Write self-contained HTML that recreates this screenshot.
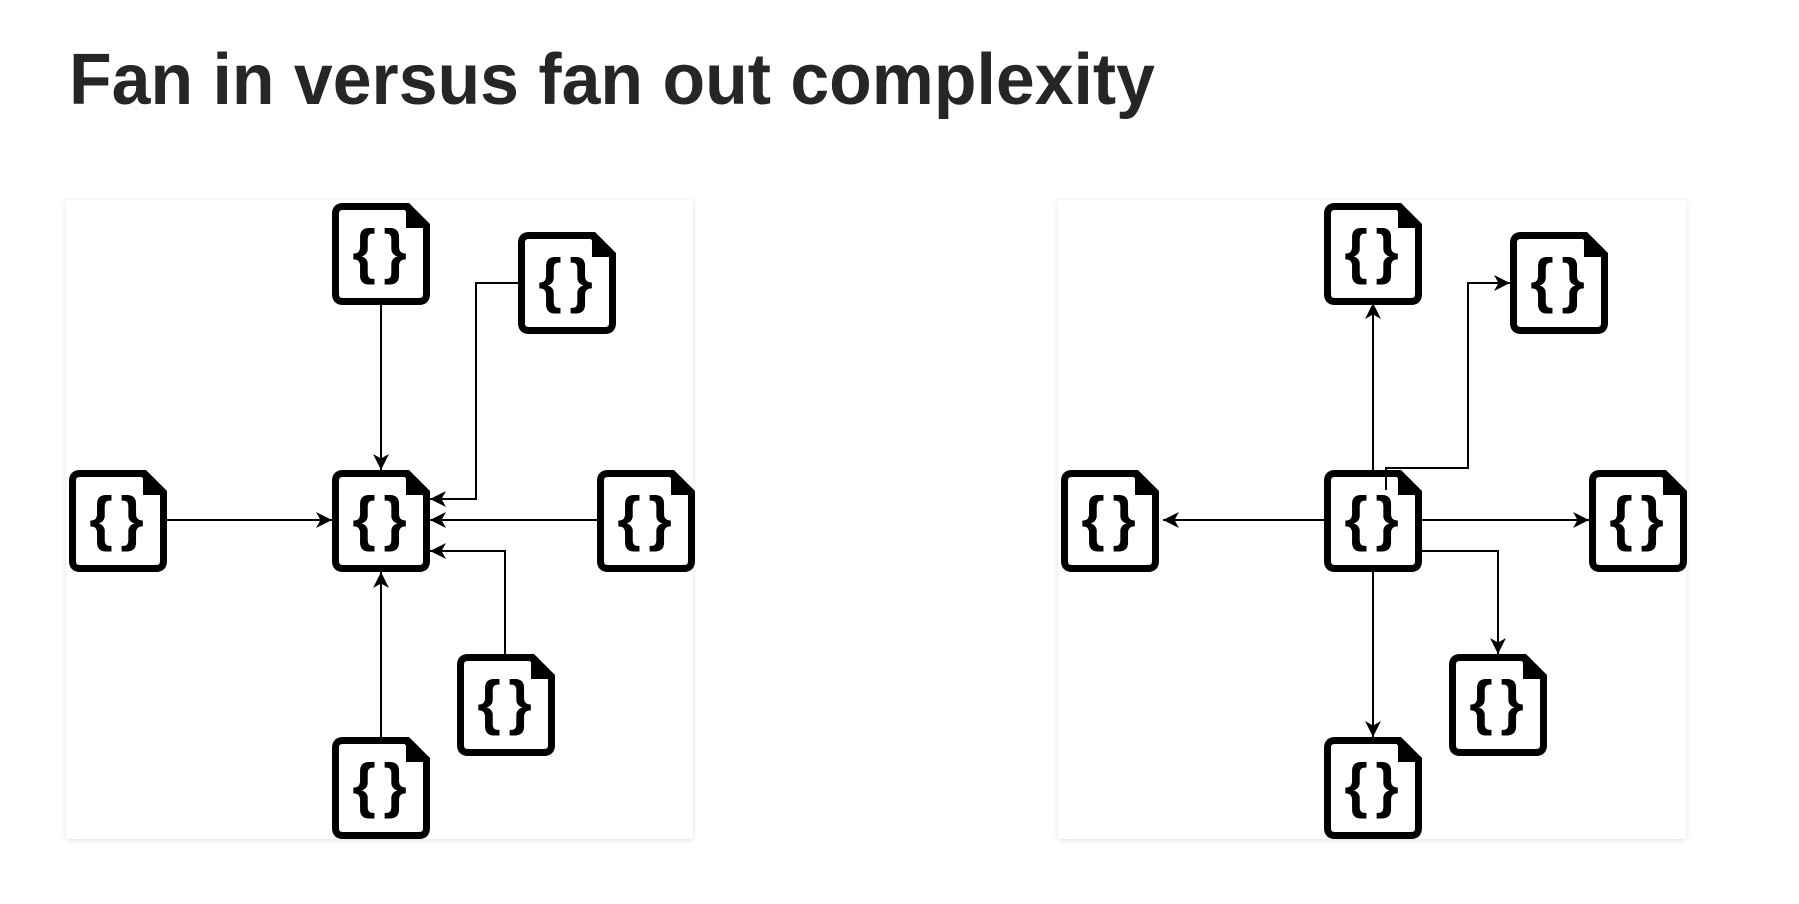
<!DOCTYPE html>
<html><head><meta charset="utf-8"><style>
html,body{margin:0;padding:0;background:#fff;width:1799px;height:904px;overflow:hidden}
</style></head><body>
<svg width="1799" height="904" viewBox="0 0 1799 904" xmlns="http://www.w3.org/2000/svg">
<defs>
<filter id="sh" x="-5%" y="-5%" width="110%" height="110%"><feDropShadow dx="0" dy="1" stdDeviation="3" flood-color="#000" flood-opacity="0.12"/></filter>
<marker id="ar" markerUnits="userSpaceOnUse" markerWidth="18" markerHeight="18" refX="16" refY="8" orient="auto"><path d="M0,0 L16,8 L0,16 L4.5,8 Z" fill="#000"/></marker>
<g id="doc">
<path d="M11,3.5 H74 L94.5,24 V91 Q94.5,98.5 87,98.5 H11 Q3.5,98.5 3.5,91 V11 Q3.5,3.5 11,3.5 Z" fill="#fff" stroke="#000" stroke-width="7"/>
<polygon points="74,0 77,0 98,21 98,25 74,25" fill="#000"/>
</g>
</defs>
<text x="69" y="104" font-family="Liberation Sans, sans-serif" font-weight="bold" font-size="72" fill="#262626" textLength="1086" lengthAdjust="spacingAndGlyphs">Fan in versus fan out complexity</text>
<rect x="66" y="200" width="627" height="639" fill="#fff" filter="url(#sh)"/>
<rect x="1058" y="200" width="628" height="639" fill="#fff" filter="url(#sh)"/>
<g stroke="#000" stroke-width="2" fill="none" marker-end="url(#ar)">
<path d="M381,303 V470"/>
<path d="M165,520 H332"/>
<path d="M597,520 H430"/>
<path d="M381,737 V572"/>
<path d="M518,283 H476 V499 H430"/>
<path d="M505,654 V551 H430"/>
<path d="M1373,470 V303"/>
<path d="M1324,520 H1163"/>
<path d="M1422,520 H1589"/>
<path d="M1373,572 V737"/>
<path d="M1386,490 V468 H1468 V283 H1510"/>
<path d="M1422,551 H1498 V654"/>
</g>
<g font-family="Liberation Sans, sans-serif" font-weight="bold" font-size="60" fill="#000" text-anchor="middle">
<use href="#doc" x="332" y="203"/><text x="364" y="272">{</text><text x="395" y="272">}</text>
<use href="#doc" x="518" y="232"/><text x="550" y="301">{</text><text x="581" y="301">}</text>
<use href="#doc" x="69" y="470"/><text x="101" y="539">{</text><text x="132" y="539">}</text>
<use href="#doc" x="332" y="470"/><text x="364" y="539">{</text><text x="395" y="539">}</text>
<use href="#doc" x="597" y="470"/><text x="629" y="539">{</text><text x="660" y="539">}</text>
<use href="#doc" x="457" y="654"/><text x="489" y="723">{</text><text x="520" y="723">}</text>
<use href="#doc" x="332" y="737"/><text x="364" y="806">{</text><text x="395" y="806">}</text>
<use href="#doc" x="1324" y="203"/><text x="1356" y="272">{</text><text x="1387" y="272">}</text>
<use href="#doc" x="1510" y="232"/><text x="1542" y="301">{</text><text x="1573" y="301">}</text>
<use href="#doc" x="1061" y="470"/><text x="1093" y="539">{</text><text x="1124" y="539">}</text>
<use href="#doc" x="1324" y="470"/><text x="1356" y="539">{</text><text x="1387" y="539">}</text>
<use href="#doc" x="1589" y="470"/><text x="1621" y="539">{</text><text x="1652" y="539">}</text>
<use href="#doc" x="1449" y="654"/><text x="1481" y="723">{</text><text x="1512" y="723">}</text>
<use href="#doc" x="1324" y="737"/><text x="1356" y="806">{</text><text x="1387" y="806">}</text>
</g>
<path d="M1386,490 V470" stroke="#000" stroke-width="2"/>
</svg>
</body></html>
